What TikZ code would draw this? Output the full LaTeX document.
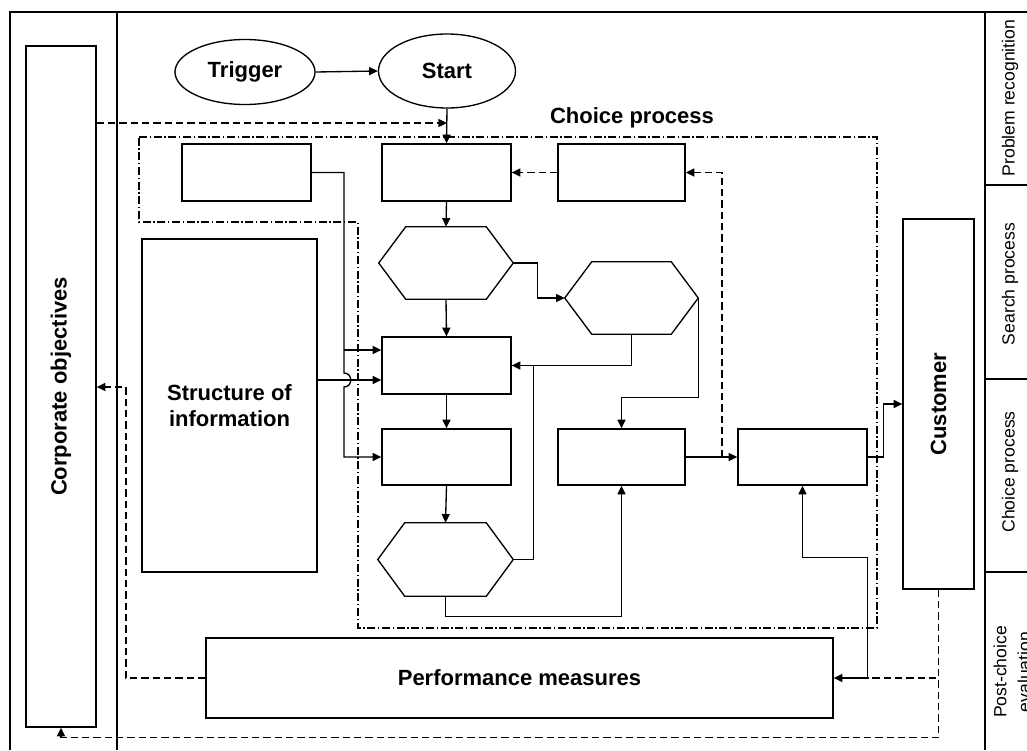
\documentclass[tikz,border=0pt]{standalone}
\usepackage{fontspec}
\setmainfont{Liberation Sans}
\usetikzlibrary{arrows.meta,shapes.geometric,fit,calc}
\newcommand\drawhexa[1]{\draw[ln] (#1.west) -- ([xshift=20.25pt]#1.north west) -- ([xshift=-20.25pt]#1.north east) -- (#1.east) -- ([xshift=-20.25pt]#1.south east) -- ([xshift=20.25pt]#1.south west) -- cycle;}
\begin{document}
\begin{tikzpicture}[x=0.75pt,y=-0.75pt,
 ln/.style={line width=1pt},
 boxn/.style={draw,ln,rectangle,inner sep=0pt},
 hexn/.style={rectangle,inner sep=0pt},
 ell/.style={draw,ln,ellipse,inner sep=0pt,font=\fontsize{16.5}{20}\selectfont\bfseries},
 tip/.tip={Triangle[length=6.5pt,width=6pt]},
 arr/.style={ln,-tip},
 arrboth/.style={ln,tip-tip},
 dsh/.style={ln,dash pattern=on 5.5pt off 3pt},
 dsharr/.style={dsh,-tip},
 dd/.style={ln,dash pattern=on 6pt off 2pt on 1pt off 2pt},
 bl/.style={font=\fontsize{16.5}{20}\selectfont\bfseries,inner sep=0pt},
 sl/.style={font=\fontsize{13.2}{18}\selectfont,inner sep=0pt},
]
\useasboundingbox (0,0) rectangle (1027,750);
\fill[white] (0,0) rectangle (1027,750);

% frame
\draw[ln] (10,750) -- (10,12) -- (1027,12);
\draw[ln] (117,12) -- (117,750);
\draw[ln] (985,12) -- (985,750);
\draw[ln] (985,185) -- (1027,185);
\draw[ln] (985,379) -- (1027,379);
\draw[ln] (985,572) -- (1027,572);
\node[sl,rotate=90] (L1) at (1010,98) {Problem recognition};
\node[sl,rotate=90] (L2) at (1010,284) {Search process};
\node[sl,rotate=90] (L3) at (1010,472) {Choice process};
\node[sl,rotate=90,align=center] (L4) at (1012,672) {Post-choice\\evaluation};

% choice process boundary
\draw[dd] (139,137) -- (877,137) -- (877,628) -- (358,628) -- (358,222) -- (139,222) -- cycle;
\node[bl] (CPL) at (632,118) {Choice process};

% ellipses
\node[ell,minimum width=105pt,minimum height=48.75pt] (Trig) at (245,72) {Trigger};
\node[ell,minimum width=102.75pt,minimum height=55.5pt] (Start) at (447,71) {Start};

% boxes
\node[boxn,fit={(26,46)(96,727)}] (Corp) {};
\node[bl,rotate=90] (CorpT) at (Corp.center) {Corporate objectives};
\node[boxn,fit={(182,144)(311,201)}] (A) {};
\node[boxn,fit={(382,144)(511,201)}] (B) {};
\node[boxn,fit={(558,144)(685,201)}] (C) {};
\node[boxn,fit={(382,337)(511,394)}] (D) {};
\node[boxn,fit={(382,429)(511,485)}] (G) {};
\node[boxn,fit={(558,429)(685,485)}] (E) {};
\node[boxn,fit={(738,429)(867,485)}] (F) {};
\node[boxn,fit={(142,239)(317,572)}] (Struct) {};
\node[bl,align=center] (StructT) at (Struct.center) {Structure of\\information};
\node[boxn,fit={(903,219)(974,589)}] (Cust) {};
\node[bl,rotate=90] (CustT) at (Cust.center) {Customer};
\node[boxn,fit={(206,638)(833,718)}] (Perf) {};
\node[bl] (PerfT) at (Perf.center) {Performance measures};

% hexagons
\node[hexn,fit={(379,227)(513,299)}] (H1) {};
\node[hexn,fit={(565,262)(698,334)}] (H2) {};
\node[hexn,fit={(378,523)(513,596)}] (H3) {};
\drawhexa{H1}
\drawhexa{H2}
\drawhexa{H3}

% helper coordinates
\coordinate (cj) at (447,123);
\coordinate (bj) at (344,350);
\coordinate (sj) at (317,380);
\coordinate (j1) at (722,457);
\coordinate (cv) at (126,387);

% connectors
\draw[arr] (Trig.east) -- (Start.west);
\draw[arr] (Start.south) -- (B.north);
\draw[dsharr] (Corp.east |- cj) -- (cj);
\draw[dsharr] (C.west) -- (B.east);
\draw[dsharr] (j1) |- (C.east);
\draw[arr] (A.east) -- (344,172.5) -- (344,373) .. controls (353,373) and (353,387) .. (344,387) -- (344,457) -- (G.west);
\draw[arr] (bj) -- (bj -| D.west);
\draw[arr] (sj) -- (sj -| D.west);
\draw[arr] (B.south) -- (H1.north);
\draw[arr] (H1.south) -- (D.north);
\draw[arr] (D.south) -- (G.north);
\draw[arr] (G.south) -- (H3.north);
\draw[arr] (H1.east) -- ++(24,0) |- (H2.west);
\draw[arr] (H2.south) |- (D.east);
\draw[ln] (H3.east) -- ++(20,0) |- (D.east);
\draw[arr] (H2.east) |- ($(E.north)+(0,-31)$) -- (E.north);
\draw[arr] (H3.south) -- ++(0,20) -| (E.south);
\draw[arr] (E.east) -- (F.west);
\draw[arr] (F.east) -- ++(16,0) |- (Cust.west);
\draw[arrboth] (Perf.east) -- ++(34,0) |- ($(F.south)+(0,72)$) -- (F.south);
\draw[dsh] (Cust.south) |- ($(Perf.east)+(34,0)$);
\draw[dsharr] (Cust.south) -- ++(0,148) -| (Corp.south);
\draw[dsharr] (Perf.west) -| (cv) -- (cv -| Corp.east);
\end{tikzpicture}
\end{document}
